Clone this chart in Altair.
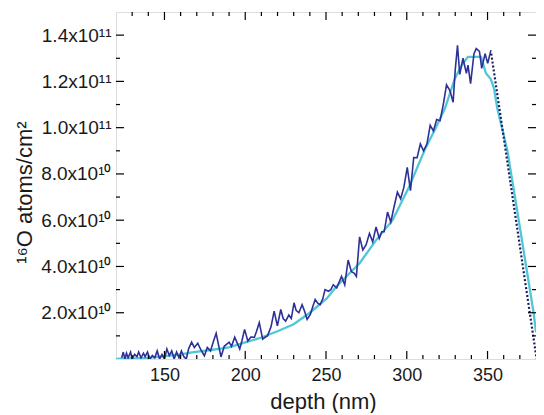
import altair as alt
import pandas as pd

# ---- data (depth in nm, 16O in units of 1e10 atoms/cm2) ----
blue_depth = [123.5, 124.5, 125.5, 126.5, 127.5, 129, 130, 131.5, 133, 134, 135.5, 137, 138, 139.5,
              141, 142.5, 144, 145.5, 147, 148.5, 150, 151.5, 153, 154.5, 156, 157.5, 159, 160.5,
              162, 163.5, 165, 166.8, 168.5, 170.6, 172.5, 174.7, 176.5, 178.5, 180.5, 182, 183.5,
              185, 187, 190, 191.5, 193.5, 195, 196.6, 198, 199.6, 201.6, 203.5, 205.7, 207, 208.7,
              210.8, 212.5, 213.8, 216, 217.9, 219.9, 222, 223.5, 225, 227, 228.5, 230.2, 231.5,
              233.2, 235.2, 236.8, 238.3, 240.3, 242, 243.3, 245, 246.4, 248, 249.4, 251.5, 253,
              254.5, 256.6, 259.6, 261.6, 263.7, 265.7, 267.5, 268.8, 270.8, 272.8, 274.8, 276.9,
              278.9, 281, 283, 284.5, 286, 288.1, 290.1, 292.1, 294.2, 296.2, 298.2, 300.3, 302.3,
              304.3, 306.4, 308.4, 310.4, 312.5, 314.5, 316.5, 318.5, 320.6, 322.6, 324.6, 326.7,
              328.7, 330, 331.4, 332.8, 334.8, 336.9, 337.9, 339.5, 341.6, 343, 345, 346.4, 348.5,
              350.1, 352.1]
blue_o16 = [0.05, 0.3, 0.0, 0.25, 0.05, 0.3, 0.0, 0.2, 0.1, 0.3, 0.05, 0.25, 0.1, 0.3,
            0.0, 0.15, 0.05, 0.35, 0.0, 0.2, 0.0, 0.43, 0.15, 0.35, 0.0, 0.3, 0.05, 0.35,
            0.1, 0.0, 0.45, 0.73, 0.5, 0.68, 0.4, 0.14, 0.5, 0.35, 0.8, 1.11, 0.6,
            0.09, 0.55, 0.73, 0.55, 0.94, 0.7, 0.43, 0.8, 1.28, 0.78, 0.95, 0.94, 1.2, 1.57,
            0.86, 0.95, 1.0, 1.4, 2.07, 1.43, 2.14, 1.75, 1.64, 1.9, 1.75, 2.43, 2.1,
            2.0, 2.35, 2.05, 1.71, 1.93, 2.3, 2.57, 2.4, 2.35, 2.6, 3.0, 2.93, 3.0,
            3.21, 3.07, 3.57, 3.21, 4.28, 3.78, 3.7, 3.57, 5.28, 4.71, 4.93, 5.43,
            5.07, 5.71, 5.21, 5.5, 5.5, 6.35, 5.92, 6.57, 7.21, 6.93, 7.42, 8.28, 7.28,
            8.71, 8.7, 9.3, 9.0, 9.3, 10.1, 9.86, 10.35, 10.3, 11.0, 11.85, 11.6,
            11.1, 12.5, 13.56, 12.3, 13.0, 12.35, 12.7, 11.9, 13.2, 13.42, 13.3, 12.56, 13.2,
            12.78, 13.35]

fit_depth = [120, 140, 160, 167, 180, 190, 200, 210, 220, 230, 240, 250.5, 256.6, 263, 270.8,
             281, 291.2, 301.3, 311.5, 318, 323.7, 329.8, 334, 337.9, 346, 349, 352, 354, 356,
             362.3, 370, 378.5, 380]
fit_o16 = [0.0, 0.05, 0.2, 0.29, 0.4, 0.5, 0.72, 0.93, 1.2, 1.5, 2.0, 2.62, 3.14, 3.6, 4.14,
           5.14, 6.0, 7.42, 9.1, 10.0, 10.85, 12.13, 12.7, 13.06, 13.06, 12.35, 12.1, 11.7, 10.85,
           9.0, 5.7, 2.0, 1.16]

dot_depth = [352.3, 380.4]
dot_o16 = [13.2, 0.0]

x_major = [150, 200, 250, 300, 350]
x_minor = [130, 140, 160, 170, 180, 190, 210, 220, 230, 240, 260, 270, 280, 290, 310, 320,
           330, 340, 360, 370]
y_major = [2e10, 4e10, 6e10, 8e10, 1e11, 1.2e11, 1.4e11]
y_minor = [1e10, 3e10, 5e10, 7e10, 9e10, 1.1e11, 1.3e11]
y_labels = ["2.0x10¹⁰", "4.0x10¹⁰", "6.0x10¹⁰", "8.0x10¹⁰", "1.0x10¹¹", "1.2x10¹¹", "1.4x10¹¹"]

W, H = 420, 347
FONT = "Liberation Sans"

blue_df = pd.DataFrame({"depth": blue_depth, "o16": [v * 1e10 for v in blue_o16]})
fit_df = pd.DataFrame({"depth": fit_depth, "o16": [v * 1e10 for v in fit_o16]})
dot_df = pd.DataFrame({"depth": dot_depth, "o16": [v * 1e10 for v in dot_o16]})

label_expr = " : ".join(
    f"round(datum.value/1e9) == {round(v / 1e9)} ? '{t}'" for v, t in zip(y_major, y_labels)
) + " : ''"

xscale = alt.Scale(domain=[120, 380], nice=False, zero=False)
yscale = alt.Scale(domain=[0, 1.5e11], nice=False)

xaxis = alt.Axis(values=x_major, format="d", title="depth (nm)", ticks=False, domain=False,
                 grid=False, labelFontSize=18, titleFontSize=22, labelPadding=7,
                 titleX=207, titleY=49, titleBaseline="alphabetic",
                 labelFont=FONT, titleFont=FONT, labelColor="#1a1a1a", titleColor="#1a1a1a",
                 titleFontWeight="normal")
yaxis = alt.Axis(values=y_major, labelExpr=label_expr, title="¹⁶O atoms/cm²", ticks=False,
                 domain=False, grid=False, labelFontSize=19, titleFontSize=22, labelPadding=5,
                 titleX=-85, titleY=180, titleBaseline="alphabetic", titleAngle=270,
                 labelFont=FONT, titleFont=FONT, labelColor="#1a1a1a",
                 titleColor="#1a1a1a", titleFontWeight="normal")

X = alt.X("depth:Q", scale=xscale)
Y = alt.Y("o16:Q", scale=yscale)

fit_line = alt.Chart(fit_df).mark_line(color="#4fc7d8", strokeWidth=2.3, clip=True).encode(
    x=alt.X("depth:Q", scale=xscale, axis=xaxis),
    y=alt.Y("o16:Q", scale=yscale, axis=yaxis),
)
blue_line = alt.Chart(blue_df).mark_line(color="#2d3196", strokeWidth=1.6, clip=True).encode(
    x=X, y=Y
)
dot_line = alt.Chart(dot_df).mark_line(color="#1c1f5c", strokeWidth=2.2, strokeDash=[2, 2],
                                       clip=True).encode(x=X, y=Y)


def xticks(vals, length):
    df = pd.DataFrame({"depth": vals})
    base = alt.Chart(df).mark_rule(color="black", strokeWidth=1.2)
    bottom = base.encode(x=X, y=alt.value(H), y2=alt.value(H - length))
    top = base.encode(x=X, y=alt.value(0), y2=alt.value(length))
    return [bottom, top]


def yticks(vals, length):
    df = pd.DataFrame({"o16": vals})
    base = alt.Chart(df).mark_rule(color="black", strokeWidth=1.2)
    left = base.encode(y=Y, x=alt.value(0), x2=alt.value(length))
    right = base.encode(y=Y, x=alt.value(W), x2=alt.value(W - length))
    return [left, right]


layers = [fit_line, blue_line, dot_line]
layers += xticks(x_major, 8) + xticks(x_minor, 4) + yticks(y_major, 8) + yticks(y_minor, 4)

chart = alt.layer(*layers).properties(
    width=W, height=H,
    padding={"left": 108, "top": 4, "right": 0, "bottom": 54},
    autosize=alt.AutoSizeParams(type="none"),
).configure_view(stroke="black", strokeWidth=1.5).configure(background="white")

chart.save("out.html", embed_options={"renderer": "svg", "actions": False})
